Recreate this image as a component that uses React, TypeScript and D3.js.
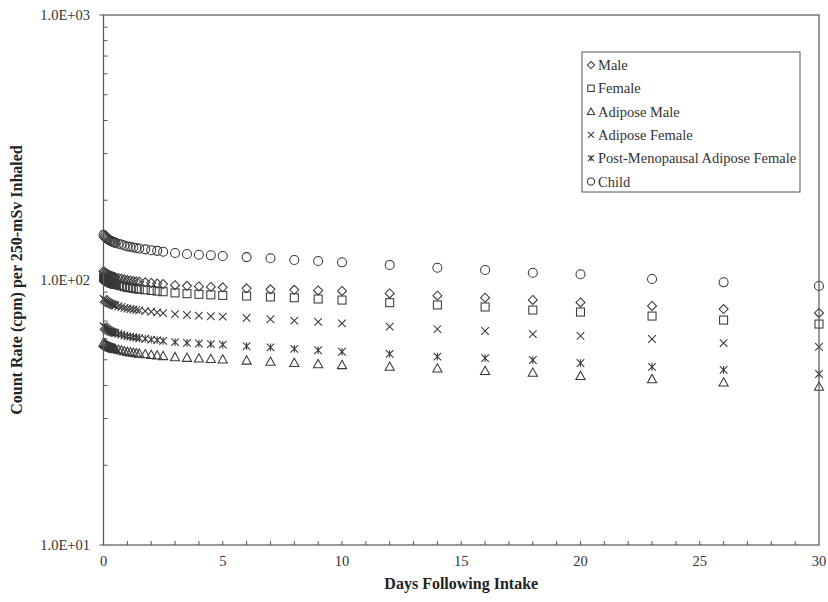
import React from 'react'
import * as d3 from 'd3'

// ===== data =====
const days = [0, 0.042, 0.083, 0.125, 0.167, 0.208, 0.25, 0.292, 0.333, 0.375, 0.417, 0.458, 0.5,
  0.625, 0.75, 0.875, 1, 1.125, 1.25, 1.375, 1.5,
  1.75, 2, 2.25, 2.5, 3, 3.5, 4, 4.5, 5, 6, 7, 8, 9, 10, 12, 14, 16, 18, 20, 23, 26, 30]

const male = [108.0, 107.2, 106.4, 105.8, 105.2, 104.7, 104.2, 103.8, 103.5, 103.1, 102.8, 102.5, 102.3,
  101.8, 101.2, 100.5, 99.9, 99.6, 99.2, 98.8, 98.5,
  98.0, 97.5, 97.0, 96.5, 95.6, 95.1, 94.6, 94.2, 93.8, 93.0, 92.2, 91.8, 91.3, 90.9, 89.0, 87.3, 85.8, 84.1, 82.3, 79.8, 77.7, 75.1]
const female = [102.0, 101.2, 100.4, 99.7, 99.1, 98.6, 98.1, 97.7, 97.4, 97.0, 96.7, 96.4, 96.2,
  95.6, 95.0, 94.3, 93.7, 93.4, 93.0, 92.6, 92.3,
  91.8, 91.3, 90.8, 90.3, 89.4, 88.8, 88.3, 87.9, 87.5, 87.0, 86.3, 85.7, 84.8, 84.0, 82.1, 80.5, 79.1, 77.0, 75.7, 73.1, 70.6, 68.2]
const adiposeMale = [58.0, 57.5, 57.1, 56.7, 56.4, 56.1, 55.9, 55.7, 55.5, 55.3, 55.2, 55.0, 54.9,
  54.6, 54.3, 53.9, 53.6, 53.4, 53.2, 53.0, 52.8,
  52.5, 52.2, 52.0, 51.7, 51.2, 50.9, 50.6, 50.4, 50.2, 49.7, 49.2, 48.7, 48.2, 47.8, 47.1, 46.4, 45.4, 44.7, 43.5, 42.3, 41.1, 39.6]
const adiposeFemale = [85.0, 84.3, 83.6, 83.0, 82.5, 82.1, 81.7, 81.4, 81.1, 80.8, 80.5, 80.3, 80.1,
  79.6, 79.1, 78.5, 78.0, 77.7, 77.4, 77.1, 76.8,
  76.3, 75.9, 75.5, 75.0, 74.3, 73.8, 73.4, 73.0, 72.7, 71.9, 71.1, 70.3, 69.5, 68.6, 66.7, 65.3, 64.2, 62.5, 61.5, 59.9, 57.8, 55.9]
const pmAdiposeFemale = [67.0, 66.4, 65.9, 65.4, 65.0, 64.6, 64.3, 64.0, 63.8, 63.6, 63.4, 63.2, 63.0,
  62.6, 62.2, 61.7, 61.3, 61.1, 60.8, 60.6, 60.3,
  60.0, 59.6, 59.3, 58.9, 58.3, 57.9, 57.6, 57.3, 57.0, 56.3, 55.7, 55.0, 54.3, 53.6, 52.6, 51.4, 50.7, 49.9, 48.6, 47.0, 45.8, 44.2]
const child = [148.0, 146.6, 145.3, 144.1, 143.0, 142.1, 141.3, 140.7, 140.1, 139.5, 138.9, 138.5, 138.1,
  137.1, 136.1, 134.9, 133.9, 133.4, 132.6, 132.0, 131.4,
  130.5, 129.6, 128.8, 127.9, 126.4, 125.4, 124.6, 123.9, 123.2, 122.0, 120.8, 119.0, 118.0, 116.6, 114.0, 111.3, 109.1, 106.5, 105.1, 100.9, 98.0, 94.9]

const seriesNames = ['Male', 'Female', 'Adipose Male', 'Adipose Female', 'Post-Menopausal Adipose Female', 'Child']
const seriesValues = [male, female, adiposeMale, adiposeFemale, pmAdiposeFemale, child]
const seriesShapes = ['diamond', 'square', 'triangle', 'cross', 'star', 'circle']

const xTicks = [0, 5, 10, 15, 20, 25, 30]
const yTicks = [10, 100, 1000]
const yTickLabels = ['1.0E+01', '1.0E+02', '1.0E+03']

// ===== layout =====
const W = 828
const H = 602
const left = 103.5
const right = 819
const top = 15
const bottom = 545
const ink = '#383838'
const font = '"Liberation Serif", "Times New Roman", serif'

function Marker({ shape, x, y, s = 1 }) {
  const st = { fill: 'none', stroke: ink, strokeWidth: 1.05 }
  if (shape === 'circle') return <circle cx={x} cy={y} r={4.5 * s} {...st} />
  if (shape === 'square') {
    const h = 4 * s
    return <rect x={x - h} y={y - h} width={2 * h} height={2 * h} {...st} />
  }
  if (shape === 'diamond') {
    const r = 4.5 * s
    return <path d={`M${x},${y - r}L${x + r},${y}L${x},${y + r}L${x - r},${y}Z`} {...st} />
  }
  if (shape === 'triangle') {
    const r = 4.6 * s
    return <path d={`M${x},${y - r}L${x + r},${y + r * 0.8}L${x - r},${y + r * 0.8}Z`} {...st} />
  }
  const r = 3.8 * s
  let d = `M${x - r},${y - r}L${x + r},${y + r}M${x - r},${y + r}L${x + r},${y - r}`
  if (shape === 'star') d += `M${x},${y - r}L${x},${y + r}`
  return <path d={d} {...st} />
}

export default function App() {
  const x = d3.scaleLinear().domain([0, 30]).range([left, right])
  const y = d3.scaleLog().domain([10, 1000]).range([bottom, top])

  const xMinor = d3.range(1, 30)
  const yMinor = y.ticks().filter(v => !yTicks.includes(v))

  return (
    <svg width={W} height={H} viewBox={`0 0 ${W} ${H}`}
      style={{ position: 'absolute', left: 0, top: 0, background: '#fff', fontFamily: font }}>
      <rect x={0} y={0} width={W} height={H} fill="#fff" />

      {/* ticks */}
      <g stroke="#555" strokeWidth={1}>
        {xMinor.map(t => (
          <line key={'xm' + t} x1={x(t)} x2={x(t)} y1={bottom} y2={bottom - 4} />
        ))}
        {yMinor.map(t => (
          <line key={'ym' + t} x1={left} x2={left + 4} y1={y(t)} y2={y(t)} />
        ))}
        {yTicks.map(t => (
          <line key={'yt' + t} x1={left - 4} x2={left} y1={y(t)} y2={y(t)} />
        ))}
      </g>

      {/* data */}
      {seriesValues.map((vals, i) => (
        <g key={seriesNames[i]}>
          {vals.map((v, j) => (
            <Marker key={j} shape={seriesShapes[i]} x={x(days[j])} y={y(v)} />
          ))}
        </g>
      ))}

      {/* frame */}
      <rect x={left} y={top} width={right - left} height={bottom - top} fill="none" stroke="#555" strokeWidth={1.2} />

      {/* tick labels */}
      <g fill="#333" fontSize={14.5}>
        {xTicks.map(t => (
          <text key={'xl' + t} x={x(t)} y={566} textAnchor="middle">{t}</text>
        ))}
        {yTicks.map((t, i) => (
          <text key={'yl' + t} x={90} y={y(t) + 5} textAnchor="end">{yTickLabels[i]}</text>
        ))}
      </g>

      {/* axis titles */}
      <text x={(left + right) / 2} y={589} textAnchor="middle" fontWeight="bold" fontSize={16} fill="#222">
        Days Following Intake
      </text>
      <text transform={`translate(22,${(top + bottom) / 2}) rotate(-90)`} textAnchor="middle"
        fontWeight="bold" fontSize={16} fill="#222">
        Count Rate (cpm) per 250-mSv Inhaled
      </text>

      {/* legend */}
      <g>
        <rect x={582} y={52} width={218} height={140} fill="#fff" stroke="#555" strokeWidth={1} />
        {seriesNames.map((name, i) => (
          <g key={'lg' + name}>
            <Marker shape={seriesShapes[i]} x={591} y={65 + i * 23.3} s={0.8} />
            <text x={598} y={65 + i * 23.3 + 5} fontSize={14.5} fill="#333">{name}</text>
          </g>
        ))}
      </g>
    </svg>
  )
}
